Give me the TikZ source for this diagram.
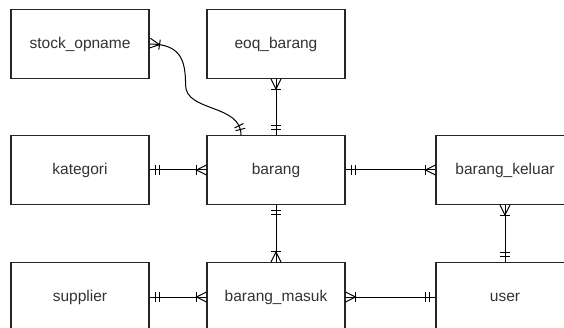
\documentclass[tikz,border=0pt]{standalone}
\usepackage{fontspec}
\setmainfont{Liberation Sans}
\usetikzlibrary{decorations.markings}

\tikzset{
  entity/.style={draw=black!85, line width=1.1pt, fill=white,
    minimum width=138pt, minimum height=69pt, inner sep=0pt,
    font=\fontsize{15.5}{18}\selectfont, text=black!80},
  rel/.style={draw=black, line width=1pt},
  % exactly one (two bars) at the start / end of a connector
  oneStart/.style={postaction={decorate, decoration={markings,
    mark=at position 5.5pt with {\draw[line width=1pt] (0,-5pt)--(0,5pt);},
    mark=at position 9.5pt with {\draw[line width=1pt] (0,-5pt)--(0,5pt);}}}},
  oneEnd/.style={postaction={decorate, decoration={markings,
    mark=at position -5.5pt with {\draw[line width=1pt] (0,-5pt)--(0,5pt);},
    mark=at position -9.5pt with {\draw[line width=1pt] (0,-5pt)--(0,5pt);}}}},
  % one or many (crow's foot with bar) at the start / end of a connector
  manyStart/.style={postaction={decorate, decoration={markings,
    mark=at position 10pt with {\draw[line width=1pt] (-10pt,5pt)--(0,0)--(-10pt,-5pt);
      \draw[line width=1pt] (0,-5pt)--(0,5pt);}}}},
  manyEnd/.style={postaction={decorate, decoration={markings,
    mark=at position -10pt with {\draw[line width=1pt] (10pt,5pt)--(0,0)--(10pt,-5pt);
      \draw[line width=1pt] (0,-5pt)--(0,5pt);}}}},
}

\begin{document}
\begin{tikzpicture}[x=1pt, y=1pt]
  \useasboundingbox (0,0) rectangle (564,-328);
  \clip (0,0) rectangle (564,-328);

  % entities
  \node[entity] (so)      at (80,-44)  {stock\_opname};
  \node[entity] (eoq)     at (276,-44) {eoq\_barang};
  \node[entity] (kat)     at (80,-170) {kategori};
  \node[entity] (barang)  at (276,-170) {barang};
  \node[entity] (keluar)  at (505,-170) {barang\_keluar};
  \node[entity] (sup)     at (80,-297) {supplier};
  \node[entity] (masuk)   at (276,-297) {barang\_masuk};
  \node[entity] (user)    at (505,-297) {user};

  \coordinate (bt) at ([xshift=-35pt]barang.north);
  \coordinate (bend) at ([shift={(36pt,-41pt)}]so.east);

  % relationships
  \draw[rel, manyStart, oneEnd] (so.east)
    .. controls +(31,0) and +(0,25) .. (bend)
    .. controls +(0,-27) and +(0,31) .. (bt);
  \draw[rel, manyStart, oneEnd] (eoq.south) -- (barang.north);
  \draw[rel, oneStart, manyEnd] (kat.east) -- (barang.west);
  \draw[rel, oneStart, manyEnd] (barang.east) -- (keluar.west);
  \draw[rel, oneStart, manyEnd] (barang.south) -- (masuk.north);
  \draw[rel, manyStart, oneEnd] (keluar.south) -- (user.north);
  \draw[rel, oneStart, manyEnd] (sup.east) -- (masuk.west);
  \draw[rel, manyStart, oneEnd] (masuk.east) -- (user.west);
\end{tikzpicture}
\end{document}
